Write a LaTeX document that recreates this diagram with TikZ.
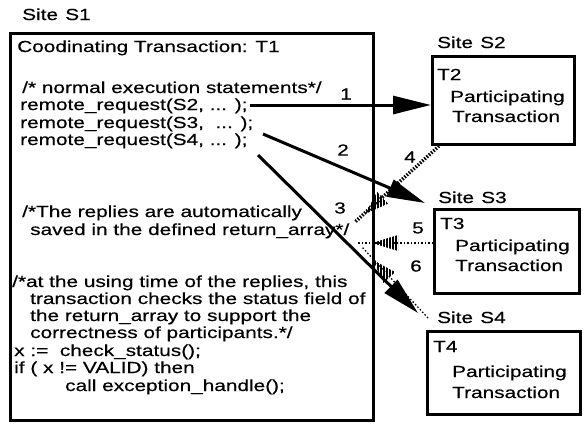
\documentclass[tikz,border=0pt]{standalone}
\usepackage{fontspec}
\setmainfont{Liberation Sans}[FakeStretch=1.3,FakeBold=0.4]
\usetikzlibrary{arrows.meta,patterns.meta}
\tikzset{
  txt/.style={anchor=base west,inner sep=0pt,font=\fontsize{16}{17.3}\selectfont},
  sitebox/.style={draw,line width=3pt,inner sep=0pt},
  callarrow/.style={line width=3pt,-{Triangle[length=38pt,width=18pt]}},
  replyline/.style={line width=3.5pt,dash pattern=on 1.5pt off 1.5pt},
  dotline/.style={line width=1.3pt,dash pattern=on 1.5pt off 2pt},
  hatchhead/.style={pattern={Lines[angle=90,distance=3pt,line width=1.8pt]}},
  num/.style={anchor=center,inner sep=0pt,font=\fontsize{16}{17}\selectfont}
}
\begin{document}
\begin{tikzpicture}[x=1pt,y=-1pt]
\useasboundingbox (0,0) rectangle (586,432);

% site boxes
\draw[line width=3pt] (10,33) rectangle (373,420);
\node[sitebox,minimum width=142pt,minimum height=88pt,anchor=north west] (s2) at (431,55) {};
\node[sitebox,minimum width=145pt,minimum height=84pt,anchor=north west] (s3) at (433,208) {};
\node[sitebox,minimum width=153pt,minimum height=83pt,anchor=north west] (s4) at (426,330) {};

% coordinating transaction T1
\node[txt] (site1) at (22,20) {Site\hspace{0.45em}S1};
\node[txt] (title) at (17,52) {Coodinating Transaction: T1};
\node[txt] (c1) at (22,93) {/* normal execution statements*/};
\node[txt] (r2) at (20,110) {remote\_request(S2, ... );};
\node[txt] (r3) at (20,128) {remote\_request(S3, \ ... );};
\node[txt] (r4) at (20,145) {remote\_request(S4, ... );};
\node[txt] (c2) at (22,217) {/*The replies are automatically};
\node[txt] (c3) at (30,235) {saved in the defined return\_array*/};
\node[txt] (c4) at (12,287) {/*at the using time of the replies, this};
\node[txt] (c5) at (30,304) {transaction checks the status field of};
\node[txt] (c6) at (30,321) {the return\_array to support the};
\node[txt] (c7) at (30,338) {correctness of participants.*/};
\node[txt] (c8) at (14,356) {x := \ check\_status();};
\node[txt] (c9) at (14,373) {if ( x != VALID) then};
\node[txt] (c10) at (65,391) {call exception\_handle();};

% participating transactions
\node[txt] (site2) at (437,48) {Site\hspace{0.45em}S2};
\node[txt] (t2) at (437,80) {T2};
\node[txt] (p2) at (450,102) {Participating};
\node[txt] (q2) at (452,122) {Transaction};

\node[txt] (site3) at (438,203) {Site\hspace{0.45em}S3};
\node[txt] (t3) at (440,229) {T3};
\node[txt] (p3) at (455,251) {Participating};
\node[txt] (q3) at (455,271) {Transaction};

\node[txt] (site4) at (437,323) {Site\hspace{0.45em}S4};
\node[txt] (t4) at (433,352) {T4};
\node[txt] (p4) at (452,377) {Participating};
\node[txt] (q4) at (452,398) {Transaction};

% request arrows
\coordinate (a2end) at (425,203);
\coordinate (a3end) at (418,313);
\draw[callarrow] ([xshift=2pt]r2.east |- 0,105) -- (s2.west |- 0,105);
\draw[callarrow] (263,134) -- (a2end);
\draw[callarrow] (258,155) -- (a3end);
\node[num] (n1) at (346,94) {1};
\node[num] (n2) at (343,150) {2};
\node[num] (n3) at (340,208) {3};

% reply arrows
\coordinate (b4end) at (355,222);
\coordinate (b5end) at (358,243);
\coordinate (b6end) at (362,247);
\draw[replyline] (s2.south west) ++(8,0) -- (b4end);
\fill[hatchhead] (365,214) -- (388,203.6) -- (377.2,191.8) -- cycle;
\draw[dotline] (s3.west |- 0,243) -- (b5end);
\fill[hatchhead] (372,243) -- (398,235) -- (398,251) -- cycle;
\draw[dotline] (428,318) -- (b6end);
\fill[hatchhead] (373,260) -- (395.1,272.1) -- (383.5,282.9) -- cycle;
\node[num] (n4) at (410,157) {4};
\node[num] (n5) at (418,228) {5};
\node[num] (n6) at (416,266) {6};
\end{tikzpicture}
\end{document}
